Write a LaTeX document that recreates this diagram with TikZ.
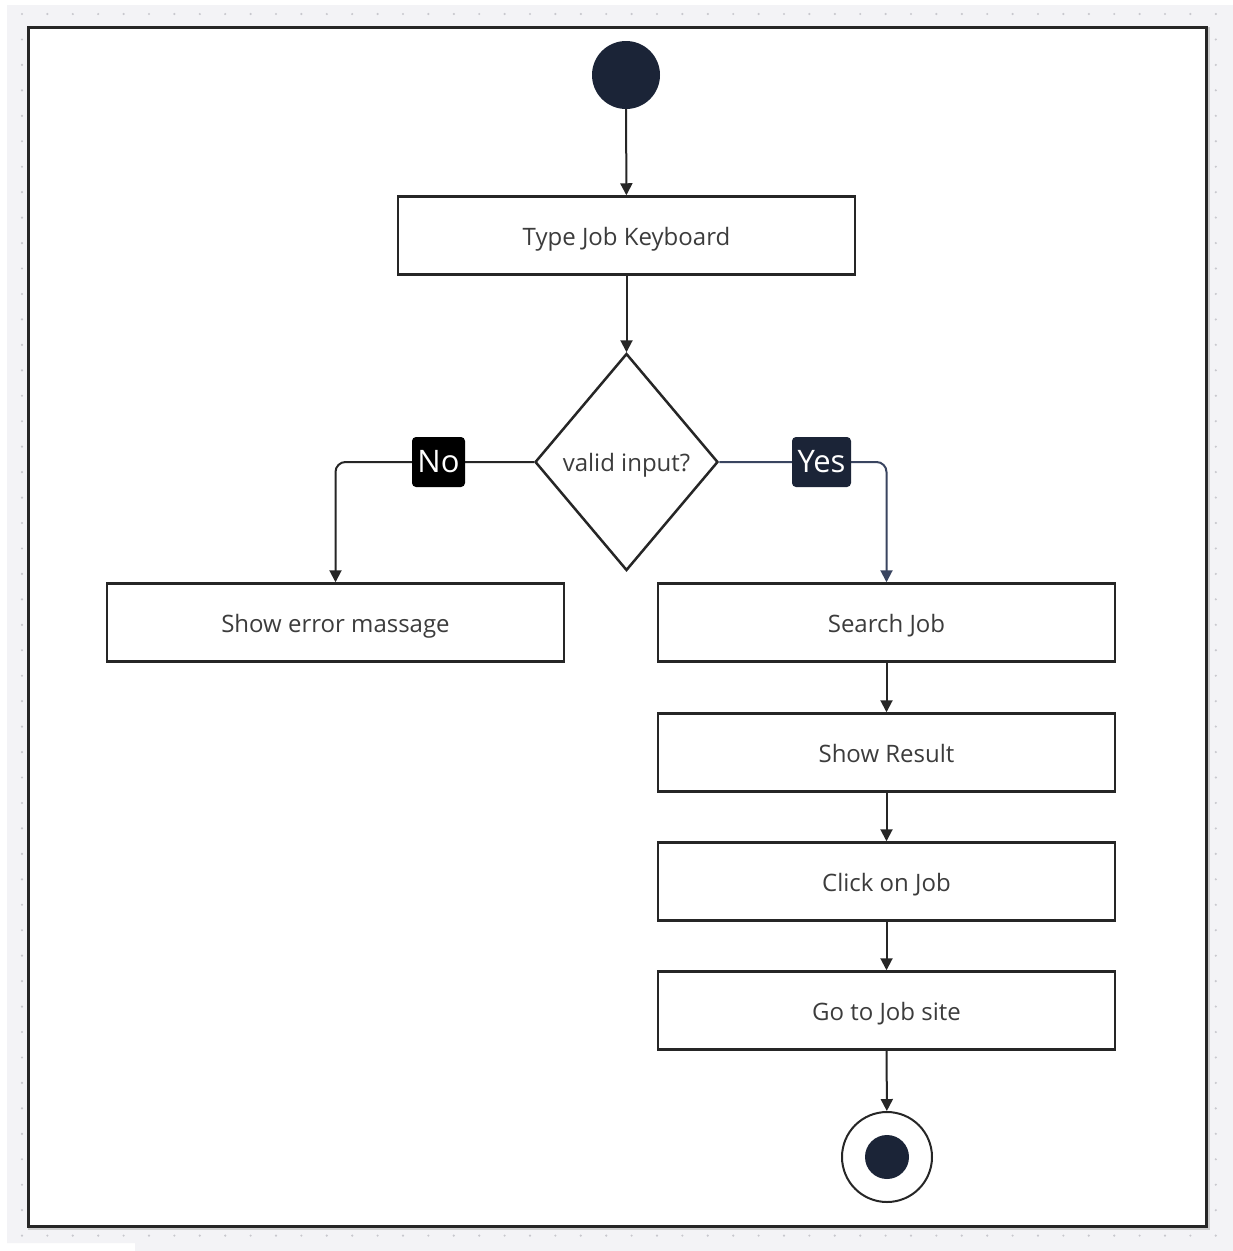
\documentclass[tikz,border=0pt]{standalone}
\usepackage{fontspec}
\setmainfont{Open Sans}
\usetikzlibrary{shapes.geometric,arrows.meta}
\definecolor{navy}{HTML}{1B2437}
\definecolor{canvas}{HTML}{F3F3F6}
\definecolor{ink}{HTML}{262626}
\definecolor{yesline}{HTML}{3A4560}
\definecolor{dotc}{HTML}{C8C8CE}
\begin{document}
\begin{tikzpicture}[x=1pt,y=-1pt,
  txt/.style={text=ink!90,font=\fontsize{24}{28}\selectfont,
    text height=22pt,text depth=3pt},
  act/.style={txt,draw=ink,line width=2.5pt,fill=white,minimum width=457pt,
    minimum height=78pt,inner sep=0pt},
  flow/.style={draw=ink,line width=2pt,-{Triangle[length=12pt,width=12pt]}},
  tag/.style={text=white,rounded corners=4pt,minimum height=50pt,inner sep=0pt,
    font=\fontsize{31}{34}\selectfont}
]
\useasboundingbox (0,0) rectangle (1233,1251);
\fill[white] (0,0) rectangle (1233,1251);
% dotted canvas
\begin{scope}
  \clip (7,5) rectangle (1233,1243) (135,1243) rectangle (1233,1251);
  \fill[canvas] (0,0) rectangle (1233,1251);
  \foreach \i in {0,...,48}{
    \foreach \j in {0,...,49}{
      \fill[dotc] (22+25.4*\i,14+25.45*\j) circle (1.2pt);
    }
  }
\end{scope}
% frame
\draw[line width=4pt,gray!40] (30,29) rectangle (1208,1228);
\draw[line width=3pt,draw=ink,fill=white] (28,27) rectangle (1206,1226);

% nodes
\node[circle,fill=navy,minimum size=68pt,inner sep=0pt] (start) at (626,75) {};
\node[act] (type) at (626.5,235.5) {Type Job Keyboard};
\node[diamond,draw=ink,line width=2.5pt,fill=white,minimum width=183pt,
      minimum height=217pt,inner sep=0pt] (dec) at (626.5,462) {};
\node[txt] (dectext) at (dec.center) {valid input?};
\node[act] (err) at (335.5,622.5) {Show error massage};
\node[act] (search) at (886.5,622.5) {Search Job};
\node[act] (result) at (886.5,752.5) {Show Result};
\node[act] (click) at (886.5,881.5) {Click on Job};
\node[act] (site) at (886.5,1010.5) {Go to Job site};
\node[circle,draw=ink,line width=2pt,fill=white,minimum size=90pt,inner sep=0pt] (end) at (887,1157) {};
\node[circle,fill=navy,minimum size=44pt,inner sep=0pt] (endin) at (end.center) {};

% connectors
\draw[flow] (start) -- (type);
\draw[flow] (type) -- (dec.north);
\draw[flow,rounded corners=10pt] (dec.west) -| (err.north);
\draw[flow,draw=yesline,rounded corners=10pt] (dec.east) -| (search.north);
\draw[flow] (search) -- (result);
\draw[flow] (result) -- (click);
\draw[flow] (click) -- (site);
\draw[flow] (site) -- (end);

% branch labels
\node[tag,fill=black,minimum width=53pt] (no) at (438.5,462) {No};
\node[tag,fill=navy,minimum width=59pt] (yes) at (821.5,462) {Yes};
\end{tikzpicture}
\end{document}
